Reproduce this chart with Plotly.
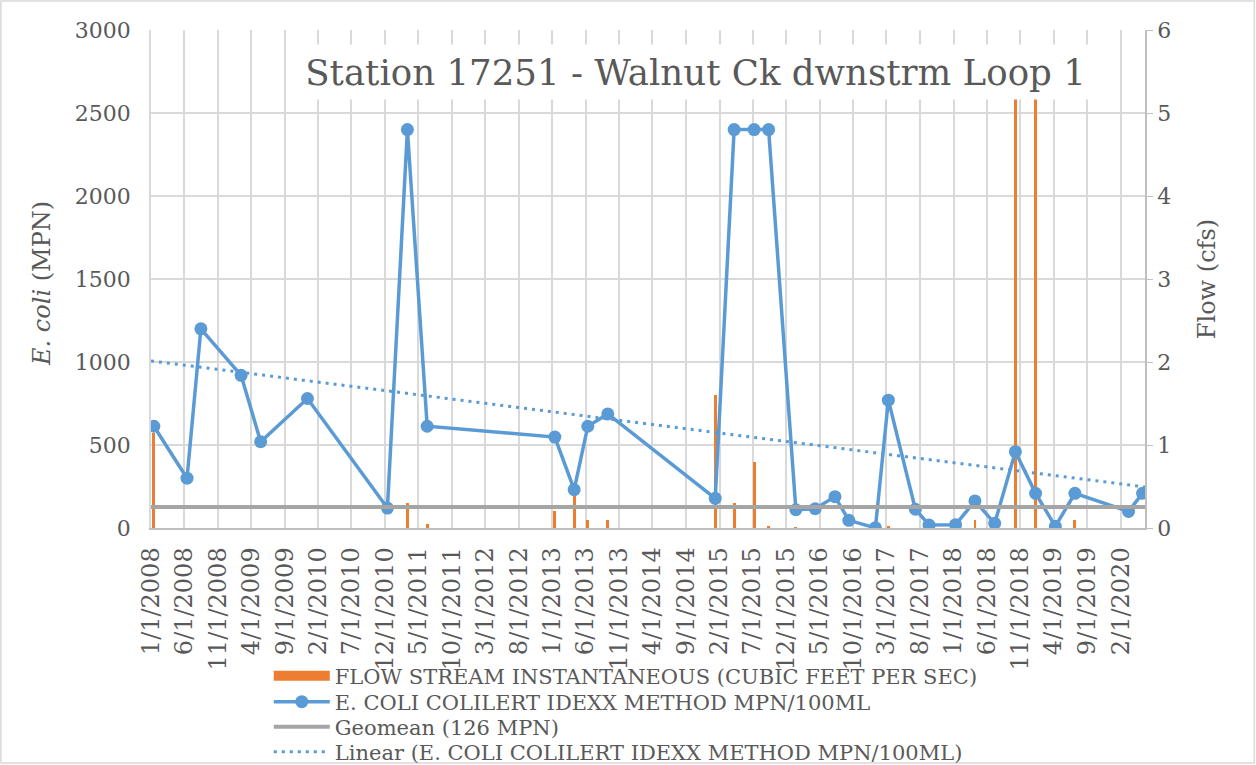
import numpy as np
import pandas as pd
import plotly.graph_objects as go

# E. coli samples (MPN/100mL)
ecoli_dates = [
    "2008-01-14", "2008-06-13", "2008-08-15", "2009-02-14", "2009-05-14",
    "2009-12-13", "2010-12-12", "2011-03-13", "2011-06-11", "2013-01-12",
    "2013-04-10", "2013-06-11", "2013-09-10", "2015-01-12", "2015-04-08",
    "2015-07-08", "2015-09-12", "2016-01-14", "2016-04-11", "2016-07-10",
    "2016-09-11", "2017-01-10", "2017-03-10", "2017-07-11", "2017-09-11",
    "2018-01-10", "2018-04-08", "2018-07-07", "2018-10-09", "2019-01-09",
    "2019-04-09", "2019-07-07", "2020-03-07", "2020-05-10",
]
ecoli_values = [
    613, 300, 1200, 920, 520,
    780, 120, 2400, 613, 548,
    231, 613, 687, 179, 2400,
    2400, 2400, 110, 116, 189,
    46, 1, 770, 113, 18,
    20, 163, 28, 460, 209,
    10, 209, 100, 209,
]

# instantaneous stream flow (cfs)
flow_dates = [
    "2008-01-14", "2011-03-13", "2011-06-11", "2013-01-12", "2013-04-10",
    "2013-06-11", "2013-09-10", "2015-01-12", "2015-04-08", "2015-07-08",
    "2015-09-12", "2016-01-14", "2017-03-10", "2018-04-08", "2018-10-09",
    "2019-01-09", "2019-07-07",
]
flow_values = [
    1.15, 0.3, 0.05, 0.2, 0.5,
    0.1, 0.1, 1.6, 0.3, 0.8,
    0.03, 0.01, 0.02, 0.1, 5.2,
    5.2, 0.1,
]

geomean = 126

tick_labels = [
    "1/1/2008", "6/1/2008", "11/1/2008", "4/1/2009", "9/1/2009", "2/1/2010",
    "7/1/2010", "12/1/2010", "5/1/2011", "10/1/2011", "3/1/2012", "8/1/2012",
    "1/1/2013", "6/1/2013", "11/1/2013", "4/1/2014", "9/1/2014", "2/1/2015",
    "7/1/2015", "12/1/2015", "5/1/2016", "10/1/2016", "3/1/2017", "8/1/2017",
    "1/1/2018", "6/1/2018", "11/1/2018", "4/1/2019", "9/1/2019", "2/1/2020",
]

FONT = "DejaVu Serif"
TXT = "#595959"
GRID = "#d9d9d9"
BLUE = "#5B9BD5"
ORANGE = "#ED7D31"
GRAY = "#A5A5A5"

ec_x = pd.to_datetime(ecoli_dates)
fl_x = pd.to_datetime(flow_dates)
tick_x = pd.to_datetime(tick_labels, format="%m/%d/%Y")
x0 = pd.Timestamp("2008-01-01")
x1 = pd.Timestamp("2020-05-21")

# linear trend of E. coli vs date (as Excel does)
days = (ec_x - x0).days.values.astype(float)
slope, icpt = np.polyfit(days, np.array(ecoli_values, float), 1)
trend_x = [x0, x1]
trend_y = [icpt, icpt + slope * (x1 - x0).days]

fig = go.Figure()

# legend-only entry so the flow swatch is a wide bar like Excel's
fig.add_trace(go.Scatter(
    x=[None], y=[None], mode="lines",
    name="FLOW STREAM INSTANTANEOUS (CUBIC FEET PER SEC)",
    line=dict(color=ORANGE, width=10), yaxis="y", legend="legend",
))
fig.add_trace(go.Bar(
    x=fl_x, y=flow_values, name="FLOW STREAM INSTANTANEOUS (CUBIC FEET PER SEC)",
    marker=dict(color=ORANGE, line_width=0), showlegend=False,
    width=13 * 24 * 3600 * 1000, yaxis="y",
))
fig.add_trace(go.Scatter(
    x=ec_x, y=ecoli_values, mode="lines+markers",
    name="E. COLI COLILERT IDEXX METHOD MPN/100ML",
    line=dict(color=BLUE, width=3.5), marker=dict(size=13, color=BLUE),
    yaxis="y2", legend="legend2",
))
fig.add_trace(go.Scatter(
    x=[x0, x1], y=[geomean, geomean], mode="lines", name="Geomean (126 MPN)",
    line=dict(color=GRAY, width=4), yaxis="y2", legend="legend3",
))
fig.add_trace(go.Scatter(
    x=trend_x, y=trend_y, mode="lines",
    name="Linear (E. COLI COLILERT IDEXX METHOD MPN/100ML)",
    line=dict(color=BLUE, width=3, dash="3px,5px"), yaxis="y2", legend="legend4",
))

# chart title sits inside the plot with a white box behind it
fig.add_annotation(
    text="Station 17251 - Walnut Ck dwnstrm Loop 1",
    xref="paper", yref="paper", x=0.548, y=0.916, xanchor="center", yanchor="middle",
    showarrow=False, font=dict(family=FONT, size=35.6, color=TXT),
    bgcolor="white", width=805, height=52,
)

# left axis title (overlaying axis titles get misplaced, so use an annotation)
fig.add_annotation(
    text="<i>E. coli</i> (MPN)", textangle=-90,
    xref="paper", yref="paper", x=-0.1097, y=0.492, xanchor="center", yanchor="middle",
    showarrow=False, font=dict(family=FONT, size=24, color=TXT),
)

# outer chart border
fig.add_shape(type="rect", xref="paper", yref="paper",
              x0=-0.151, x1=1.110, y0=-0.472, y1=1.058,
              line=dict(color=GRID, width=1.5))

# one legend per row so the rows can sit 25px apart like the original
legend_rows = [676, 702, 727, 752]
legend_style = dict(
    xref="container", yref="container", x=0.214, xanchor="left", yanchor="middle",
    font=dict(family=FONT, size=21, color=TXT), itemwidth=56,
    bgcolor="rgba(0,0,0,0)",
)
legends = {}
for i, row in enumerate(legend_rows):
    key = "legend" if i == 0 else f"legend{i + 1}"
    legends[key] = dict(legend_style, y=1 - row / 765)

fig.update_layout(
    template="none",
    width=1256, height=765,
    margin=dict(l=151, r=111, t=30, b=237, autoexpand=False),
    plot_bgcolor="white", paper_bgcolor="white",
    font=dict(family=FONT, color=TXT),
    bargap=0,
    xaxis=dict(
        type="date", range=[x0, x1],
        tickvals=tick_x, ticktext=tick_labels, tickangle=-90,
        tickfont=dict(size=24, color=TXT),
        showgrid=True, gridcolor=GRID, gridwidth=1.5,
        showline=True, linecolor="#bfbfbf", linewidth=1.5,
        ticks="", ticklabelstandoff=8, zeroline=False,
    ),
    yaxis=dict(
        range=[0, 6], dtick=1, side="right", automargin=True,
        tickfont=dict(size=22, color=TXT),
        title=dict(text="Flow (cfs)", font=dict(size=24, color=TXT), standoff=28),
        showgrid=False, zeroline=False,
        showline=True, linecolor="#bfbfbf", linewidth=1.5,
        ticks="outside", ticklen=6, tickcolor="#bfbfbf",
    ),
    yaxis2=dict(
        range=[0, 3000], dtick=500, side="left", overlaying="y",
        tickfont=dict(size=22, color=TXT),
        showgrid=True, gridcolor=GRID, gridwidth=1.5, zeroline=False,
        showline=True, linecolor=GRID, linewidth=1.5,
        ticks="", ticklabelstandoff=14,
    ),
    showlegend=True,
    **legends,
)

fig.write_html("out.html", config={"displayModeBar": False},
               post_script="document.body.style.margin='0';")
